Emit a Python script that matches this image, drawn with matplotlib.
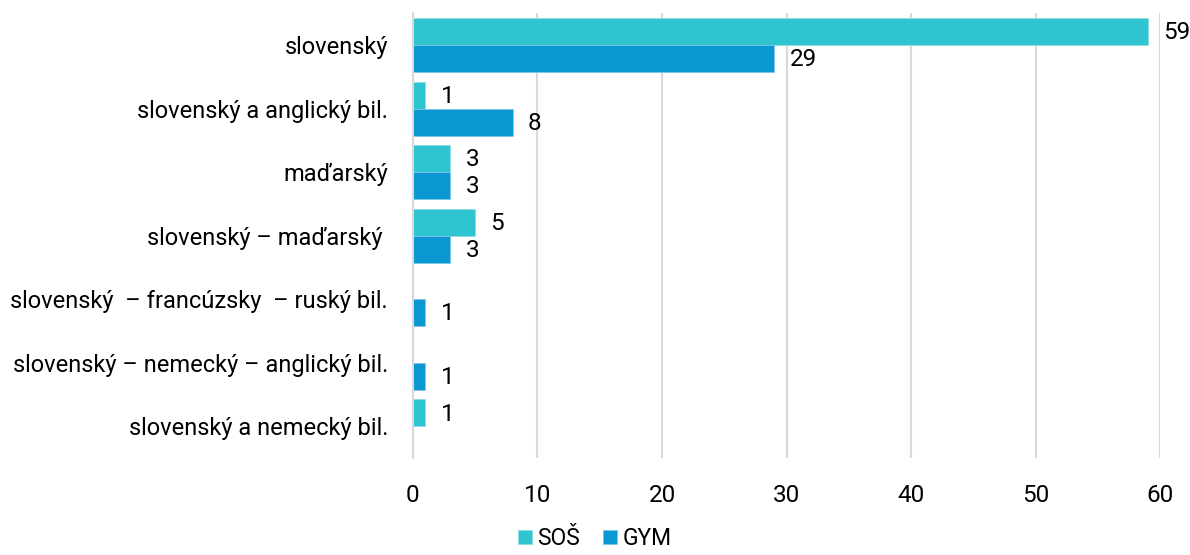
import matplotlib.pyplot as plt
import numpy as np

plt.rcParams['font.family'] = ['Roboto', 'DejaVu Sans']

categories = ["slovenský", "slovenský a anglický bil.", "maďarský", "slovenský – maďarský ",
              "slovenský  – francúzsky  – ruský bil.", "slovenský – nemecký – anglický bil.",
              "slovenský a nemecký bil."]
sos = [59, 1, 3, 5, 0, 0, 1]
gym = [29, 8, 3, 3, 1, 1, 0]
xticks = [0, 10, 20, 30, 40, 50, 60]

c_sos = "#2EC5D1"
c_gym = "#0B97D1"

fig = plt.figure(figsize=(11.9, 5.55), dpi=100)
ax = fig.add_axes([0.347, 0.175, 0.628, 0.801])

y = np.arange(len(categories))
h = 0.425
b1 = ax.barh(y - h / 2, sos, height=h, color=c_sos, edgecolor="#8fdde6", linewidth=0.6, label="SOŠ")
b2 = ax.barh(y + h / 2, gym, height=h, color=c_gym, edgecolor="#7cc6e8", linewidth=0.6, label="GYM")

# zero values: no bar, no label
for bars, vals in ((b1, sos), (b2, gym)):
    for r, v in zip(bars, vals):
        if v == 0:
            r.set_visible(False)
            continue
        ax.annotate(str(v), (v, r.get_y() + r.get_height() / 2), xytext=(11, -1),
                    textcoords="offset points", va="center", ha="left", fontsize=17.5)

ax.set_ylim(len(categories) - 0.5, -0.5)
ax.set_xlim(0, 60)
ax.set_xticks(xticks)
ax.set_yticks(y)
ax.set_yticklabels(categories)
ax.tick_params(axis="y", length=0, pad=18, labelsize=17)
ax.tick_params(axis="x", length=0, pad=19, labelsize=17.5)

ax.grid(axis="x", color="#d9d9d9", linewidth=1.5)
ax.set_axisbelow(True)
for s in ("top", "right", "bottom"):
    ax.spines[s].set_visible(False)
ax.spines["left"].set_color("#d9d9d9")
ax.spines["left"].set_linewidth(1.5)

fig.legend(handles=[b1, b2], loc="lower center", bbox_to_anchor=(0.5, -0.028), ncol=2,
           frameon=False, fontsize=16.5, handlelength=0.6, handleheight=0.6,
           handletextpad=0.25, columnspacing=1.0)

fig.savefig("out.png", dpi=100)
